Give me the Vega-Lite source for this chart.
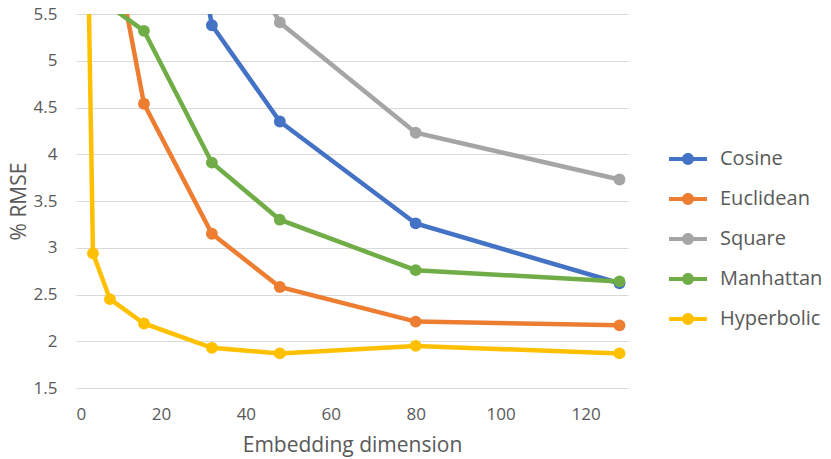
{
  "$schema": "https://vega.github.io/schema/vega-lite/v6.json",
  "autosize": {"type": "none"},
  "padding": {"left": 76, "top": 14, "right": 203, "bottom": 71},
  "width": 552,
  "height": 374,
  "background": "white",
  "config": {
    "font": "Open Sans",
    "view": {"stroke": null},
    "axis": {"labelColor": "#595959", "titleColor": "#595959", "labelFont": "Open Sans", "titleFont": "Open Sans", "titleFontWeight": "normal"}
  },
  "data": {
    "values": [
      {"series": "Cosine", "dim": 16, "rmse": 9.5},
      {"series": "Cosine", "dim": 32, "rmse": 5.38},
      {"series": "Cosine", "dim": 48, "rmse": 4.35},
      {"series": "Cosine", "dim": 80, "rmse": 3.26},
      {"series": "Cosine", "dim": 128, "rmse": 2.62},
      {"series": "Euclidean", "dim": 8, "rmse": 6.46},
      {"series": "Euclidean", "dim": 16, "rmse": 4.54},
      {"series": "Euclidean", "dim": 32, "rmse": 3.15},
      {"series": "Euclidean", "dim": 48, "rmse": 2.58},
      {"series": "Euclidean", "dim": 80, "rmse": 2.21},
      {"series": "Euclidean", "dim": 128, "rmse": 2.17},
      {"series": "Square", "dim": 32, "rmse": 6.7},
      {"series": "Square", "dim": 48, "rmse": 5.41},
      {"series": "Square", "dim": 80, "rmse": 4.23},
      {"series": "Square", "dim": 128, "rmse": 3.73},
      {"series": "Manhattan", "dim": 8, "rmse": 5.58},
      {"series": "Manhattan", "dim": 16, "rmse": 5.32},
      {"series": "Manhattan", "dim": 32, "rmse": 3.91},
      {"series": "Manhattan", "dim": 48, "rmse": 3.3},
      {"series": "Manhattan", "dim": 80, "rmse": 2.76},
      {"series": "Manhattan", "dim": 128, "rmse": 2.64},
      {"series": "Hyperbolic", "dim": 2, "rmse": 8.4},
      {"series": "Hyperbolic", "dim": 4, "rmse": 2.94},
      {"series": "Hyperbolic", "dim": 8, "rmse": 2.45},
      {"series": "Hyperbolic", "dim": 16, "rmse": 2.19},
      {"series": "Hyperbolic", "dim": 32, "rmse": 1.93},
      {"series": "Hyperbolic", "dim": 48, "rmse": 1.87},
      {"series": "Hyperbolic", "dim": 80, "rmse": 1.95},
      {"series": "Hyperbolic", "dim": 128, "rmse": 1.87}
    ]
  },
  "encoding": {
    "x": {
      "field": "dim", "type": "quantitative",
      "scale": {"domain": [0, 130], "nice": false, "zero": false},
      "axis": {"values": [0, 20, 40, 60, 80, 100, 120], "grid": false, "domain": false, "ticks": false, "labelFontSize": 17, "labelPadding": 18, "title": "Embedding dimension", "titleFontSize": 21, "titlePadding": 12}
    },
    "y": {
      "field": "rmse", "type": "quantitative",
      "scale": {"domain": [1.5, 5.5], "nice": false, "zero": false},
      "axis": {"values": [1.5, 2, 2.5, 3, 3.5, 4, 4.5, 5, 5.5], "format": "~g", "grid": true, "gridColor": "#D9D9D9", "gridWidth": 1, "domain": false, "ticks": false, "labelFontSize": 17, "labelPadding": 19, "title": "% RMSE", "titleFontSize": 21, "titlePadding": 4}
    },
    "color": {
      "field": "series", "type": "nominal",
      "scale": {"domain": ["Cosine", "Euclidean", "Square", "Manhattan", "Hyperbolic"], "range": ["#4472C4", "#ED7D31", "#A5A5A5", "#70AD47", "#FFC000"]},
      "legend": {
        "orient": "none", "legendX": 599, "legendY": 132, "title": null,
        "symbolType": "M -1.5 -0.16 L 1.5 -0.16 L 1.5 0.16 L -1.5 0.16 Z M 0.47 0 A 0.47 0.47 0 1 1 -0.47 0 A 0.47 0.47 0 1 1 0.47 0 Z",
        "symbolSize": 640, "symbolStrokeWidth": 0, "symbolOpacity": 1,
        "labelFontSize": 20, "labelColor": "#595959", "labelFont": "Open Sans", "labelOffset": 19,
        "rowPadding": 17, "symbolLimit": 10,
        "encode": {"symbols": {"update": {"fill": {"scale": "color", "field": "value"}, "fillOpacity": {"value": 1}, "strokeWidth": {"value": 0}}}}
      }
    }
  },
  "layer": [
    {
      "mark": {"type": "line", "strokeWidth": 4.5, "clip": true}
    },
    {
      "mark": {"type": "circle", "size": 140, "opacity": 1, "clip": true}
    }
  ]
}
